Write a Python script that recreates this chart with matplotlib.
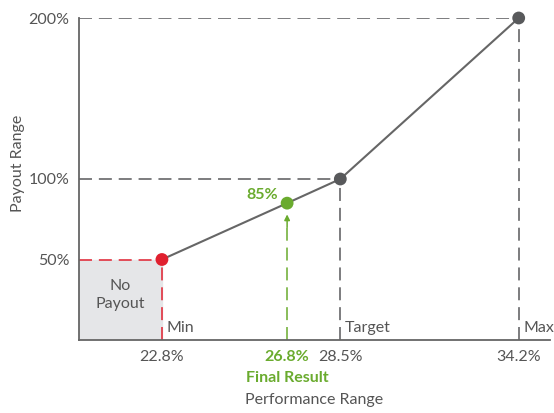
import matplotlib
matplotlib.use("Agg")
import matplotlib.pyplot as plt
from matplotlib.patches import Rectangle

plt.rcParams['font.family'] = ['Lato', 'DejaVu Sans']

# data
perf = [22.8, 26.8, 28.5, 34.2]
payout = [50, 85, 100, 200]
point_colors = ['#e0202f', '#6aab2e', '#58595b', '#58595b']
perf_labels = ['22.8%', '26.8%', '28.5%', '34.2%']
payout_ticks = [50, 100, 200]
payout_labels = ['50%', '100%', '200%']
level_names = ['Min', 'Target', 'Max']
level_perf = [22.8, 28.5, 34.2]

GRAY = '#58595b'
GREEN = '#6aab2e'
RED = '#e0202f'
TXT = '#555555'
FS = 11.5

fig = plt.figure(figsize=(5.54, 4.13), dpi=100)
ax = fig.add_axes([79 / 554, 73 / 413, 471 / 554, 322 / 413])
ax.set_xlim(20.15, 35.2)
ax.set_ylim(0, 200)

# no payout box
ax.add_patch(Rectangle((20.15, 0), perf[0] - 20.15, payout[0], color='#e5e6e8', zorder=0))
ax.text((20.15 + perf[0]) / 2, 28, 'No\nPayout', ha='center', va='center',
        fontsize=FS, color=TXT, linespacing=1.35)

dash = dict(lw=1.1, dashes=(8.5, 4.5), zorder=1)
# red guides for min
ax.plot([20.15, perf[0]], [payout[0]] * 2, color=RED, **dash)
ax.plot([perf[0]] * 2, [0, payout[0]], color=RED, **dash)
# gray guides for target and max
for x, y in zip(perf[2:], payout[2:]):
    ax.plot([20.15, x], [y, y], color=GRAY, **dash)
    ax.plot([x, x], [0, y], color=GRAY, **dash)
# green guide for final result
ax.plot([perf[1]] * 2, [0, 70], color=GREEN, **dash)
ax.annotate('', xy=(perf[1], 78), xytext=(perf[1], 70),
            arrowprops=dict(arrowstyle='-|>', color=GREEN, lw=1.1,
                            mutation_scale=8, shrinkA=0, shrinkB=0))

# payout curve
ax.plot(perf, payout, color='#666666', lw=1.5, zorder=2)
ax.scatter(perf, payout, s=85, c=point_colors, zorder=3, clip_on=False, linewidths=0)
ax.text(perf[1] - 0.3, payout[1] + 1, '85%', ha='right', va='bottom',
        fontsize=FS, fontweight='bold', color=GREEN)

for name, x in zip(level_names, level_perf):
    ax.text(x + 0.15, 3, name, ha='left', va='bottom', fontsize=FS, color=TXT)

ax.set_xticks(perf)
ax.set_xticklabels(perf_labels)
ax.set_yticks(payout_ticks)
ax.set_yticklabels(payout_labels)
ax.tick_params(length=0, labelsize=FS, labelcolor=TXT, pad=7)
xt = ax.get_xticklabels()
xt[1].set_color(GREEN)
xt[1].set_fontweight('bold')
ax.text(perf[1], -23.5, 'Final Result', ha='center', va='center', fontsize=FS,
        fontweight='bold', color=GREEN)

for s in ['top', 'right']:
    ax.spines[s].set_visible(False)
for s in ['left', 'bottom']:
    ax.spines[s].set_color('#666666')
    ax.spines[s].set_linewidth(1.3)

ax.set_xlabel('Performance Range', fontsize=FS, color=TXT)
ax.xaxis.set_label_coords(0.5, -0.165)
ax.set_ylabel('Payout Range', fontsize=FS, color=TXT)
ax.yaxis.set_label_coords(-0.115, 0.55)

fig.savefig('out.png', dpi=100)
